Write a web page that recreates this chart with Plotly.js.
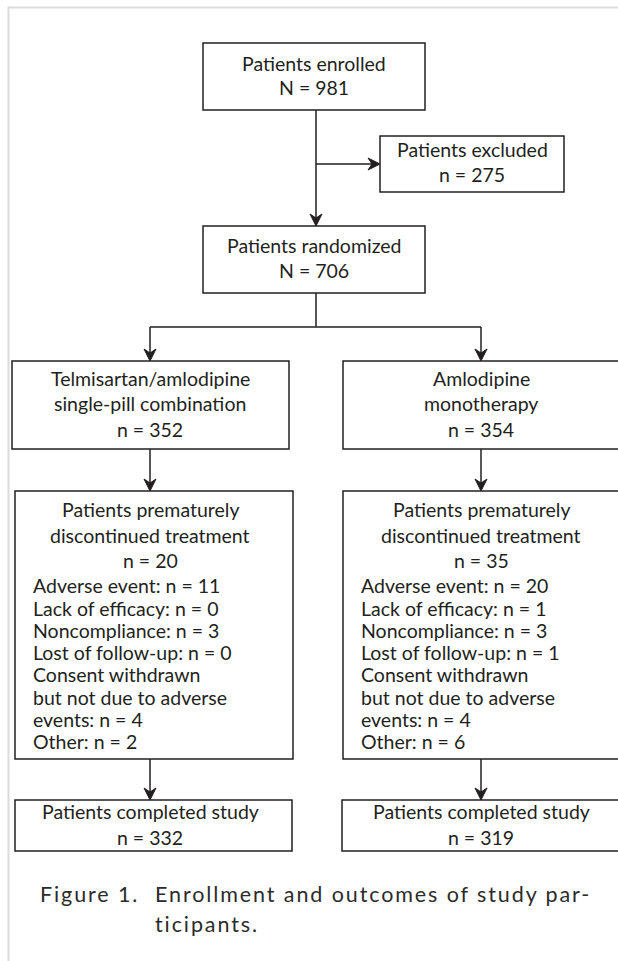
<!DOCTYPE html>
<html>
<head>
<meta charset="utf-8">
<script src="https://cdn.plot.ly/plotly-3.0.1.min.js"></script>
<style>
  html, body { margin: 0; padding: 0; background: #ffffff; }
  #chart { width: 618px; height: 961px; }
</style>
</head>
<body>
<div id="chart"></div>
<script>
// ---- Data ----
const stageTitles = ["Patients enrolled", "Patients excluded", "Patients randomized"];
const stageN = [981, 275, 706];
const armTitles = [["Telmisartan/amlodipine", "single-pill combination"], ["Amlodipine", "monotherapy"]];
const armN = [352, 354];
const discontinuedTitle = ["Patients prematurely", "discontinued treatment"];
const discontinuedN = [20, 35];
const reasonLabels = [["Adverse event"], ["Lack of efficacy"], ["Noncompliance"], ["Lost of follow-up"],
                      ["Consent withdrawn", "but not due to adverse", "events"], ["Other"]];
const reasonsTelmisartan = [11, 0, 3, 0, 4, 2];
const reasonsAmlodipine = [20, 1, 3, 1, 4, 6];
const completedTitle = "Patients completed study";
const completedN = [332, 319];
const captionLines = ["Figure 1.", "Enrollment and outcomes of study par-", "ticipants."];

// ---- Drawing helpers ----
const FONT = "Lato, 'Open Sans', sans-serif";
const INK = "#231f20";
const FS = 19.5;
const shapes = [];
const annotations = [];

function box(x0, x1, y0, y1) {
  shapes.push({type: "rect", xref: "x", yref: "y", x0, x1, y0, y1,
    line: {color: INK, width: 1.5}, fillcolor: "rgba(0,0,0,0)"});
}
function seg(x0, y0, x1, y1) {
  shapes.push({type: "line", xref: "x", yref: "y", x0, y0, x1, y1, line: {color: INK, width: 1.5}});
}
function headDown(x, yTip) {
  shapes.push({type: "path", xref: "x", yref: "y",
    path: `M ${x} ${yTip} L ${x - 6} ${yTip - 12} L ${x} ${yTip - 8} L ${x + 6} ${yTip - 12} Z`,
    fillcolor: INK, line: {color: INK, width: 1}});
}
function headRight(xTip, y) {
  shapes.push({type: "path", xref: "x", yref: "y",
    path: `M ${xTip} ${y} L ${xTip - 12} ${y - 6} L ${xTip - 8} ${y} L ${xTip - 12} ${y + 6} Z`,
    fillcolor: INK, line: {color: INK, width: 1}});
}
function arrowDown(x, y0, y1) { seg(x, y0, x, y1 - 2); headDown(x, y1); }
function txt(x, baseline, s, anchor, size, color) {
  size = size || FS;
  annotations.push({xref: "x", yref: "y", x, y: baseline - 0.387 * size, text: s,
    showarrow: false, xanchor: anchor || "center", yanchor: "middle",
    font: {family: FONT, size, color: color || INK}});
  return annotations.length - 1;
}

// ---- Top part ----
box(203, 425, 43, 110);
txt(314, 70.7, stageTitles[0]);
txt(314, 95, "N = " + stageN[0]);

box(380, 564, 136, 192);
txt(472, 157.5, stageTitles[1]);
txt(472, 182.5, "n = " + stageN[1]);

box(203, 425, 226, 293);
txt(314, 253, stageTitles[2]);
txt(314, 278, "N = " + stageN[2]);

seg(316, 110, 316, 224);
headDown(316, 226);
seg(316, 164, 378, 164);
headRight(380, 164);

seg(316, 293, 316, 327);
seg(150, 327, 481, 327);

// ---- Two arms ----
const armCx = [150, 481];
const armBoxX = [[12, 289], [343, 640]];
const discBoxX = [[15, 293], [343, 640]];
const compBoxX = [[15, 292], [342, 640]];
const listX = [31, 359];
const reasons = [reasonsTelmisartan, reasonsAmlodipine];

for (let a = 0; a < 2; a++) {
  const cx = armCx[a];
  arrowDown(cx, 327, 361);
  box(armBoxX[a][0], armBoxX[a][1], 361, 449);
  txt(cx, 386.5, armTitles[a][0]);
  txt(cx, 411.5, armTitles[a][1]);
  txt(cx, 437, "n = " + armN[a]);

  arrowDown(cx, 449, 491);
  box(discBoxX[a][0], discBoxX[a][1], 491, 759);
  txt(cx, 517.5, discontinuedTitle[0]);
  txt(cx, 543, discontinuedTitle[1]);
  txt(cx, 568, "n = " + discontinuedN[a]);
  let bl = 593.3;
  for (let r = 0; r < reasonLabels.length; r++) {
    const parts = reasonLabels[r];
    for (let p = 0; p < parts.length; p++) {
      const last = p === parts.length - 1;
      txt(listX[a], bl, last ? parts[p] + ": n = " + reasons[a][r] : parts[p], "left");
      bl += 22.3;
    }
  }

  arrowDown(cx, 759, 800);
  box(compBoxX[a][0], compBoxX[a][1], 800, 851);
  txt(cx, 819, completedTitle);
  txt(cx, 845, "n = " + completedN[a]);
}

// ---- Caption ----
const CAP = 21.5;
const CAP_COLOR = "#2b2b2b";
const capIdx = [
  txt(38, 902.3, captionLines[0], "left", CAP, CAP_COLOR),
  txt(153, 902.3, captionLines[1], "left", CAP, CAP_COLOR),
  txt(153, 932.7, captionLines[2], "left", CAP, CAP_COLOR)
];

// ---- Page frame (light grey, top and left) ----
shapes.push({type: "line", xref: "paper", yref: "paper", x0: 0.013, x1: 1.01, y0: 1 - 7.5 / 961, y1: 1 - 7.5 / 961,
  line: {color: "#dcdcdc", width: 2}});
shapes.push({type: "line", xref: "paper", yref: "paper", x0: 8.5 / 618, x1: 8.5 / 618, y0: 0, y1: 1 - 6.5 / 961,
  line: {color: "#dcdcdc", width: 2}});

const layout = {
  width: 618, height: 961,
  margin: {l: 0, r: 0, t: 0, b: 0},
  paper_bgcolor: "#ffffff", plot_bgcolor: "#ffffff",
  xaxis: {range: [0, 618], visible: false, fixedrange: true},
  yaxis: {range: [961, 0], visible: false, fixedrange: true},
  showlegend: false,
  shapes, annotations
};

Plotly.newPlot("chart", [], layout, {displayModeBar: false, staticPlot: true}).then(function () {
  // caption is set with wider tracking, as in the journal figure: keep its left edge fixed
  capIdx.forEach(function (i) {
    const el = document.querySelector('#chart g.annotation[data-index="' + i + '"] text.annotation-text');
    if (!el) return;
    const w = el.getComputedTextLength();
    const x = parseFloat(el.getAttribute("x"));
    el.setAttribute("text-anchor", "start");
    el.setAttribute("x", x - w / 2);
    el.querySelectorAll("tspan[x]").forEach(function (t) { t.setAttribute("x", x - w / 2); });
    el.style.letterSpacing = "1.9px";
  });
});
</script>
</body>
</html>
